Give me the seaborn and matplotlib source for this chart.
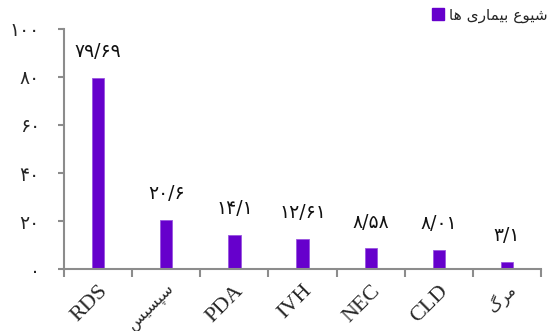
import matplotlib
matplotlib.use("Agg")
import matplotlib.pyplot as plt
import seaborn as sns
from matplotlib.patches import Patch
from matplotlib.ticker import FixedLocator, FuncFormatter

# data
categories = ["RDS", "سپسیس", "PDA", "IVH", "NEC", "CLD", "مرگ"]
prevalence = [79.69, 20.6, 14.1, 12.61, 8.58, 8.01, 3.1]
series_name = "شیوع بیماری ها"
y_ticks = [0, 20, 40, 60, 80, 100]

BAR_COLOR = "#6600cc"
AXIS_GRAY = "#8c8c8c"

# minimal Persian shaping (matplotlib has no Arabic shaping / bidi)
FORMS = {  # isolated, final, initial, medial
    "ا": ("\ufe8d", "\ufe8e", None, None),
    "ب": ("\ufe8f", "\ufe90", "\ufe91", "\ufe92"),
    "پ": ("\ufb56", "\ufb57", "\ufb58", "\ufb59"),
    "ر": ("\ufead", "\ufeae", None, None),
    "س": ("\ufeb1", "\ufeb2", "\ufeb3", "\ufeb4"),
    "ش": ("\ufeb5", "\ufeb6", "\ufeb7", "\ufeb8"),
    "ع": ("\ufec9", "\ufeca", "\ufecb", "\ufecc"),
    "گ": ("\ufb92", "\ufb93", "\ufb94", "\ufb95"),
    "م": ("\ufee1", "\ufee2", "\ufee3", "\ufee4"),
    "ه": ("\ufee9", "\ufeea", "\ufeeb", "\ufeec"),
    "و": ("\ufeed", "\ufeee", None, None),
    "ی": ("\ufeef", "\ufef0", "\ufef3", "\ufef4"),
}


def is_fa(text):
    return any(ch in FORMS for ch in text)


def shape_fa(text):
    if not is_fa(text):
        return text
    out = []
    for i, ch in enumerate(text):
        if ch not in FORMS:
            out.append(ch)
            continue
        prev = text[i - 1] if i > 0 else ""
        nxt = text[i + 1] if i + 1 < len(text) else ""
        join_prev = prev in FORMS and FORMS[prev][2] is not None
        join_next = nxt in FORMS and FORMS[ch][2] is not None
        iso, fin, ini, med = FORMS[ch]
        if join_prev and join_next:
            out.append(med)
        elif join_prev:
            out.append(fin)
        elif join_next:
            out.append(ini)
        else:
            out.append(iso)
    return "".join(out)[::-1]


FA_DIGITS = str.maketrans("0123456789.", "۰۱۲۳۴۵۶۷۸۹/")


def fa_num(v):
    return f"{v:g}".translate(FA_DIGITS)


sns.set_style("white")
plt.rcParams["font.family"] = ["Liberation Serif", "DejaVu Sans"]

fig = plt.figure(figsize=(5.55, 3.31), dpi=100)
ax = fig.add_axes([0.1153, 0.1873, 0.8597, 0.7251])

sns.barplot(x=list(range(len(categories))), y=prevalence, color=BAR_COLOR,
            width=0.18, saturation=1, edgecolor="#9a55e0", linewidth=0.6, ax=ax)

for i, v in enumerate(prevalence):
    ax.annotate(fa_num(v), (i, v), xytext=(0, 12), textcoords="offset points",
                ha="center", va="bottom", fontsize=13.5,
                family=["DejaVu Sans"], color="#111111")

ax.set_xlim(-0.5, len(categories) - 0.5)
ax.set_ylim(0, 100)

# major x ticks at category boundaries, labels on minor ticks at centres
ax.xaxis.set_major_locator(FixedLocator([i - 0.5 for i in range(len(categories) + 1)]))
ax.xaxis.set_minor_locator(FixedLocator(list(range(len(categories)))))
ax.set_xticklabels([], minor=False)
ax.set_xticklabels([shape_fa(c) for c in categories], minor=True,
                   rotation=45, ha="right", rotation_mode="anchor", fontsize=16)
for lab, cat in zip(ax.get_xticklabels(minor=True), categories):
    if is_fa(cat):
        lab.set_fontsize(11.5)
        lab.set_family(["DejaVu Sans"])
ax.tick_params(axis="x", which="major", direction="out", length=6, width=1.5,
               color=AXIS_GRAY, bottom=True)
ax.tick_params(axis="x", which="minor", length=0, pad=9, bottom=True)

ax.set_yticks(y_ticks)
ax.yaxis.set_major_formatter(FuncFormatter(lambda v, p: fa_num(v)))
ax.tick_params(axis="y", direction="out", length=4.5, width=1.5, color=AXIS_GRAY,
               pad=13, labelsize=13.5, left=True)
for lab in ax.get_yticklabels():
    lab.set_family(["DejaVu Sans"])

sns.despine(ax=ax)
for side in ("left", "bottom"):
    ax.spines[side].set_color(AXIS_GRAY)
    ax.spines[side].set_linewidth(1.5)

handle = Patch(facecolor=BAR_COLOR, edgecolor=BAR_COLOR)
leg = fig.legend([handle], [shape_fa(series_name)], loc="upper right",
                 bbox_to_anchor=(1.0, 1.0), frameon=False, handlelength=0.8,
                 handleheight=0.8, handletextpad=0.3, borderaxespad=0.0,
                 borderpad=0.5, prop={"family": ["DejaVu Sans"], "size": 11})

fig.savefig("out.png", dpi=100)
